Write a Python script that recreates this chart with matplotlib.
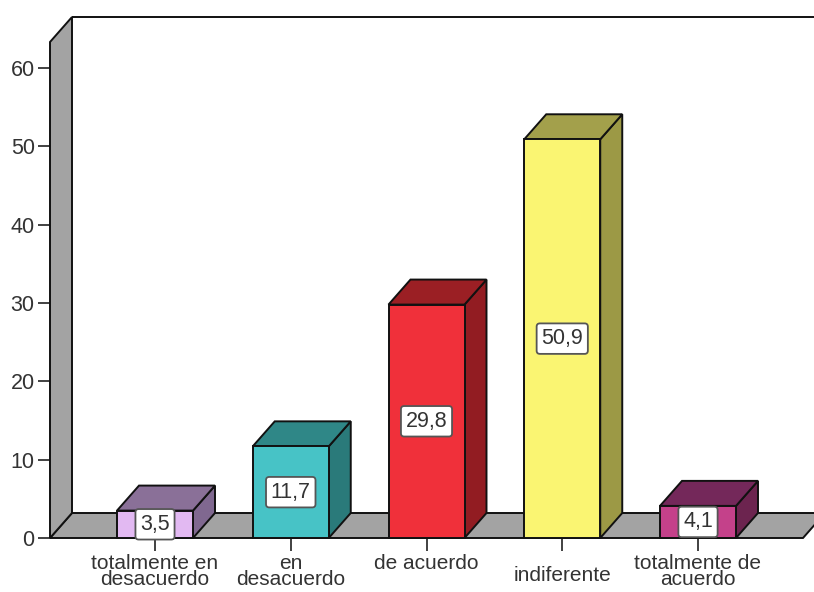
import matplotlib
matplotlib.use("Agg")
import matplotlib.pyplot as plt
from matplotlib.patches import Polygon

# ---- data ----
categories = ["totalmente en\ndesacuerdo", "en\ndesacuerdo", "de acuerdo",
              "indiferente", "totalmente de\nacuerdo"]
values = [3.5, 11.7, 29.8, 50.9, 4.1]
yticks = [0, 10, 20, 30, 40, 50, 60]

# ---- styles ----
front_colors = ["#e2b9f2", "#47c3c6", "#f0303a", "#faf572", "#c4418a"]
top_colors = ["#8a7098", "#2f8787", "#9b1f24", "#a3a04b", "#74285a"]
side_colors = ["#806890", "#2a7a7a", "#921c22", "#9c9945", "#6c244f"]
wall_color = "#a3a3a3"
edge = "#111111"
FONT = "Liberation Sans"
FS = 15.5
FS_CAT = 15

W, H = 814, 592
fig = plt.figure(figsize=(W / 100, H / 100), dpi=100)
left_px, bottom_px, top_px = 50, 538, 17
ax = fig.add_axes([left_px / W, (H - bottom_px) / H, (W - left_px) / W, (bottom_px - top_px) / H])
ax.set_facecolor("none")

px_per_unit_y = (538 - 68) / 60.0
px_per_cat = 135.75
first_center_px = 155
ymax = (bottom_px - top_px) / px_per_unit_y
xmin = (left_px - first_center_px) / px_per_cat
xmax = (W - first_center_px) / px_per_cat
ax.set_xlim(xmin, xmax)
ax.set_ylim(0, ymax)

dx = 22 / px_per_cat
dy = 25 / px_per_unit_y
bw = 76 / px_per_cat
floor_right = (803 - first_center_px) / px_per_cat
lw = 1.4

# back wall top line
ax.plot([xmin + dx, xmax + 1], [ymax, ymax], color=edge, lw=lw, clip_on=False, zorder=1,
        solid_capstyle="butt")
# floor
floor = Polygon([(xmin, 0), (floor_right, 0), (floor_right + dx, dy), (xmin + dx, dy)],
                closed=True, facecolor=wall_color, edgecolor=edge, lw=lw, clip_on=False, zorder=2,
                joinstyle="miter")
ax.add_patch(floor)
# left wall
wall = Polygon([(xmin, 0), (xmin, ymax - dy), (xmin + dx, ymax), (xmin + dx, dy)],
               closed=True, facecolor=wall_color, edgecolor=edge, lw=lw, clip_on=False, zorder=2,
               joinstyle="miter")
ax.add_patch(wall)

# bars
for i, v in enumerate(values):
    x0, x1 = i - bw / 2, i + bw / 2
    front = Polygon([(x0, 0), (x1, 0), (x1, v), (x0, v)], closed=True,
                    facecolor=front_colors[i], edgecolor=edge, lw=lw, zorder=3, clip_on=False)
    top = Polygon([(x0, v), (x0 + dx, v + dy), (x1 + dx, v + dy), (x1, v)], closed=True,
                  facecolor=top_colors[i], edgecolor=edge, lw=lw, zorder=3, clip_on=False)
    side = Polygon([(x1, 0), (x1 + dx, dy), (x1 + dx, v + dy), (x1, v)], closed=True,
                   facecolor=side_colors[i], edgecolor=edge, lw=lw, zorder=3, clip_on=False)
    for p in (side, top, front):
        ax.add_patch(p)
    ax.text(i, v / 2, f"{v:.1f}".replace(".", ","), ha="center", va="center",
            fontsize=FS, family=FONT, color="#333333", zorder=5,
            bbox=dict(boxstyle="round,pad=0.22,rounding_size=0.15", facecolor="white",
                      edgecolor="#555555", lw=1.3))

# axes decorations
for s in ax.spines.values():
    s.set_visible(False)
ax.set_yticks(yticks)
ax.set_yticklabels([str(t) for t in yticks], fontsize=FS, family=FONT, color="#333333")
ax.set_xticks(range(len(categories)))
ax.set_xticklabels([""] * len(categories))
ax.tick_params(axis="y", direction="out", length=9, width=1.3, color="#333333", pad=2)
ax.tick_params(axis="x", direction="out", length=9, width=1.3, color="#333333")

label_offsets = {3: 9}
for i, c in enumerate(categories):
    off = 11.5 + label_offsets.get(i, 0)
    ax.annotate(c, xy=(i, 0), xycoords="data", xytext=(0, -off), textcoords="offset points",
                ha="center", va="top", fontsize=FS_CAT, family=FONT, color="#333333",
                linespacing=0.8, annotation_clip=False)

fig.savefig("out.png", dpi=100)
